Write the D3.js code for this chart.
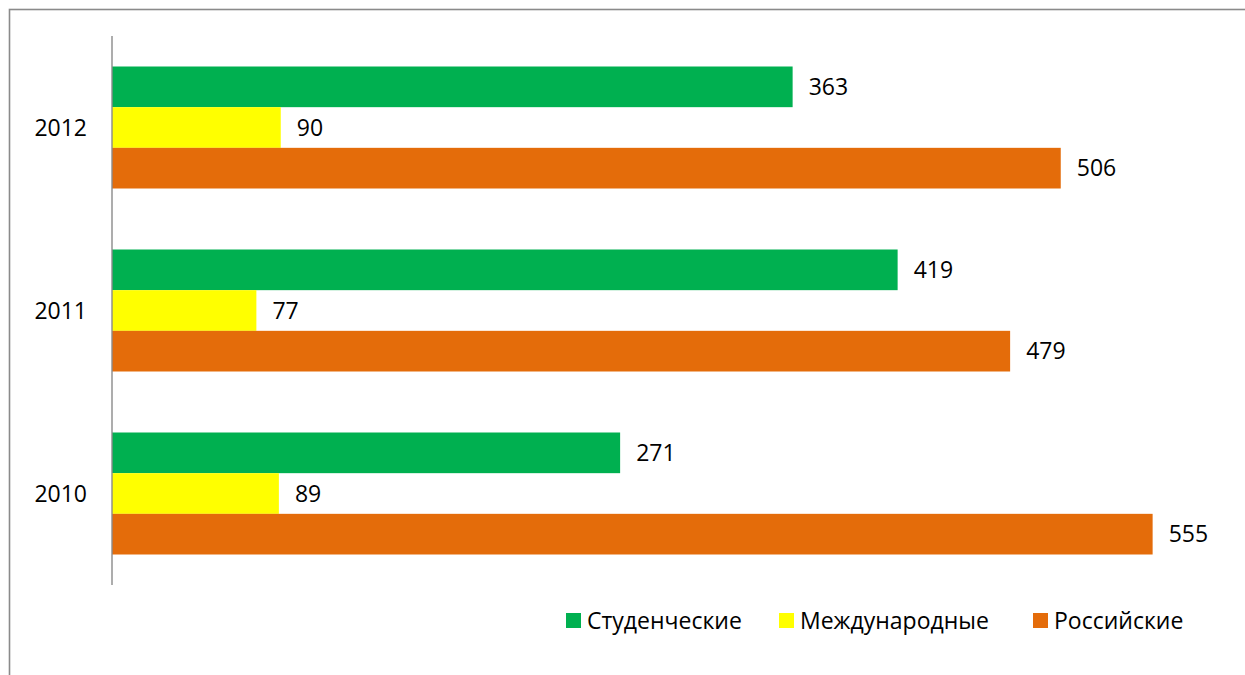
<!DOCTYPE html>
<html>
<head>
<meta charset="utf-8">
<script src="https://cdn.jsdelivr.net/npm/d3@7"></script>
<style>
    body { margin: 0; background: #fff; }
    svg { display: block; }
    text { font-family: "Open Sans", sans-serif; fill: #000; }
</style>
</head>
<body>
<div id="chart"></div>
<script>
// данные
var years = ["2012", "2011", "2010"];
var seriesNames = ["Студенческие", "Международные", "Российские"];
var seriesColors = ["#00B050", "#FFFF00", "#E46C0A"];
var studentValues = [363, 419, 271];
var internationalValues = [90, 77, 89];
var russianValues = [506, 479, 555];
var xDomain = [0, 600];

var WIDTH = 1245, HEIGHT = 675;

var svg = d3.select("#chart").append("svg")
    .attr("width", WIDTH)
    .attr("height", HEIGHT);

// рамка диаграммы (правая и нижняя стороны за пределами кадра)
svg.append("rect")
    .attr("x", 9.5).attr("y", 9.5)
    .attr("width", 1400).attr("height", 900)
    .attr("fill", "none")
    .attr("stroke", "#8a8a8a")
    .attr("stroke-width", 1.6);

var x = d3.scaleLinear().domain(xDomain).range([112, 1237]);

var y0 = d3.scaleBand().domain(years).range([36, 585]).padding(0);
var y1 = d3.scaleBand().domain(seriesNames)
    .range([0, y0.bandwidth()])
    .paddingInner(0)
    .paddingOuter(0.75);

var rows = years.map(function (yr, i) {
    return {
        year: yr,
        values: [studentValues[i], internationalValues[i], russianValues[i]]
    };
});

var groups = svg.append("g").attr("id", "bars")
    .selectAll("g")
    .data(rows).enter()
    .append("g")
    .attr("transform", function (d) { return "translate(0," + y0(d.year) + ")"; });

var cells = groups.selectAll("g")
    .data(function (d) {
        return d.values.map(function (v, j) { return { name: seriesNames[j], value: v, idx: j }; });
    })
    .enter().append("g");

cells.append("rect")
    .attr("x", x(0))
    .attr("y", function (d) { return y1(d.name); })
    .attr("width", function (d) { return x(d.value) - x(0); })
    .attr("height", y1.bandwidth())
    .attr("fill", function (d) { return seriesColors[d.idx]; });

// подписи значений
cells.append("text")
    .attr("x", function (d) { return x(d.value) + 16; })
    .attr("y", function (d) { return y1(d.name) + y1.bandwidth() / 2; })
    .attr("dy", ".36em")
    .style("font-size", "23px")
    .text(function (d) { return d.value; });

// ось категорий
svg.append("line")
    .attr("x1", x(0)).attr("x2", x(0))
    .attr("y1", 36).attr("y2", 585)
    .attr("stroke", "#8a8a8a")
    .attr("stroke-width", 1.4);

svg.append("g").selectAll("text")
    .data(years).enter()
    .append("text")
    .attr("x", x(0) - 25)
    .attr("y", function (d) { return y0(d) + y0.bandwidth() / 2; })
    .attr("dy", ".36em")
    .attr("text-anchor", "end")
    .style("font-size", "23px")
    .text(function (d) { return d; });

// легенда
var legendX = [566, 779, 1033];
var legend = svg.append("g").attr("id", "legend")
    .selectAll("g")
    .data(seriesNames).enter()
    .append("g")
    .attr("transform", function (d, i) { return "translate(" + legendX[i] + ",613)"; });

legend.append("rect")
    .attr("width", 15).attr("height", 15)
    .attr("fill", function (d, i) { return seriesColors[i]; });

legend.append("text")
    .attr("x", 21)
    .attr("y", 7.5)
    .attr("dy", ".36em")
    .style("font-size", "23px")
    .text(function (d) { return d; });
</script>
</body>
</html>
